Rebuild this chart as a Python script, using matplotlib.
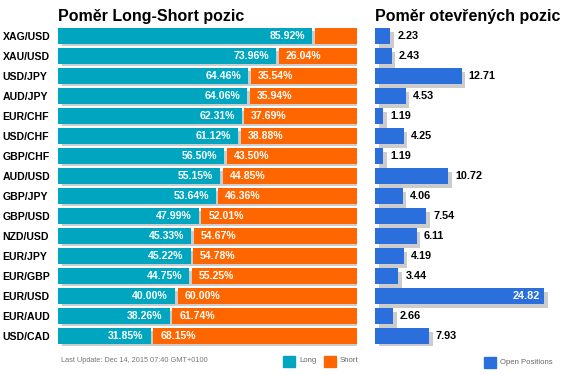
import numpy as np
import matplotlib
matplotlib.use('Agg')
import matplotlib.pyplot as plt
import matplotlib.transforms as mtransforms

plt.rcParams['font.family'] = ['Liberation Sans', 'DejaVu Sans']

# data
pairs = ['XAG/USD', 'XAU/USD', 'USD/JPY', 'AUD/JPY', 'EUR/CHF', 'USD/CHF', 'GBP/CHF', 'AUD/USD',
         'GBP/JPY', 'GBP/USD', 'NZD/USD', 'EUR/JPY', 'EUR/GBP', 'EUR/USD', 'EUR/AUD', 'USD/CAD']
long_pct = [85.92, 73.96, 64.46, 64.06, 62.31, 61.12, 56.50, 55.15,
            53.64, 47.99, 45.33, 45.22, 44.75, 40.00, 38.26, 31.85]
short_pct = [14.08, 26.04, 35.54, 35.94, 37.69, 38.88, 43.50, 44.85,
             46.36, 52.01, 54.67, 54.78, 55.25, 60.00, 61.74, 68.15]
open_pos = [2.23, 2.43, 12.71, 4.53, 1.19, 4.25, 1.19, 10.72,
            4.06, 7.54, 6.11, 4.19, 3.44, 24.82, 2.66, 7.93]

c_long = '#00a6c0'
c_short = '#ff6600'
c_open = '#2a6fdb'
c_shadow = '#cccccc'

W, H = 564, 375
fig = plt.figure(figsize=(W / 100, H / 100), dpi=100)

def px_ax(x0, y0, x1, y1):
    return fig.add_axes([x0 / W, 1 - y1 / H, (x1 - x0) / W, (y1 - y0) / H])

y = np.arange(len(pairs))

# left panel: long / short ratio
ax = px_ax(58, 26, 357, 346)
shadow = ax.transData + mtransforms.ScaledTranslation(3.5 / 100, -2.5 / 100, fig.dpi_scale_trans)
ax.barh(y, [100] * len(y), height=0.78, color=c_shadow, transform=shadow, zorder=1)
ax.barh(y, np.array(long_pct) - 0.9, height=0.78, color=c_long, zorder=2)
ax.barh(y, short_pct, left=long_pct, height=0.78, color=c_short, zorder=2)
for i, (lp, sp) in enumerate(zip(long_pct, short_pct)):
    ax.annotate(f'{lp:.2f}%', (lp - 0.9, i), xytext=(-5, 0), textcoords='offset points',
                ha='right', va='center', color='white', fontsize=7.6, fontweight='bold', zorder=3)
    if sp > 20:
        ax.annotate(f'{sp:.2f}%', (lp, i), xytext=(5, 0), textcoords='offset points',
                    ha='left', va='center', color='white', fontsize=7.6, fontweight='bold', zorder=3)
ax.set_xlim(0, 100)
ax.set_ylim(len(y) - 0.5, -0.5)
ax.set_yticks(y)
ax.set_yticklabels(pairs, fontsize=7.6, fontweight='bold')
ax.tick_params(axis='y', length=0, pad=40)
for lbl in ax.get_yticklabels():
    lbl.set_horizontalalignment('left')
ax.set_xticks([])
for s in ax.spines.values():
    s.set_visible(False)

# right panel: open positions
ax2 = px_ax(375, 26, 560, 346)
shadow2 = ax2.transData + mtransforms.ScaledTranslation(3.5 / 100, -4 / 100, fig.dpi_scale_trans)
ax2.barh(y, open_pos, height=0.78, color=c_shadow, transform=shadow2, zorder=1)
ax2.barh(y, open_pos, height=0.78, color=c_open, zorder=2)
for i, v in enumerate(open_pos):
    if v > 20:
        ax2.annotate(f'{v:.2f}', (v, i), xytext=(-3, 0), textcoords='offset points',
                     ha='right', va='center', color='white', fontsize=7.8, fontweight='bold', zorder=3)
    else:
        ax2.annotate(f'{v:.2f}', (v, i), xytext=(5, 0), textcoords='offset points',
                     ha='left', va='center', color='black', fontsize=7.8, fontweight='bold', zorder=3)
ax2.set_xlim(0, 185 / 6.81)
ax2.set_ylim(len(y) - 0.5, -0.5)
ax2.axis('off')

# titles
fig.text(58 / W, 1 - 17 / H, 'Poměr Long-Short pozic', fontsize=11.5, fontweight='bold', va='center')
fig.text(375 / W, 1 - 17 / H, 'Poměr otevřených pozic', fontsize=11.5, fontweight='bold', va='center')

# footer / legend
fig.text(61 / W, 1 - 361 / H, 'Last Update: Dec 14, 2015 07:40 GMT+0100', fontsize=5.3, color='#777777', va='center')

def legend_box(x0, label, color, yc):
    fig.patches.append(plt.Rectangle((x0 / W, 1 - (yc + 5.5) / H), 11.5 / W, 11 / H,
                                     transform=fig.transFigure, color=color))
    fig.text((x0 + 16) / W, 1 - yc / H, label, fontsize=5.6, color='#666666', va='center')

legend_box(283, 'Long', c_long, 361)
legend_box(324, 'Short', c_short, 361)
legend_box(484, 'Open Positions', c_open, 362)

fig.savefig('out.png', dpi=100)
